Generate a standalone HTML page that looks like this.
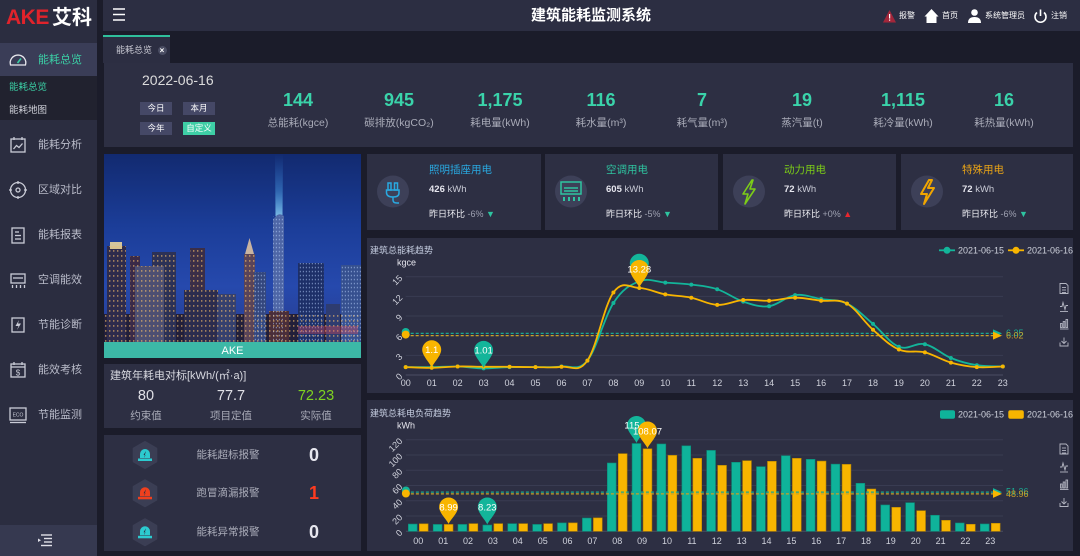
<!DOCTYPE html>
<html><head><meta charset="utf-8">
<style>
*{margin:0;padding:0;box-sizing:border-box}
body{width:1080px;height:556px;overflow:hidden;background:#1b1c2a;font-family:"Liberation Sans","Noto Sans CJK SC",sans-serif;position:relative;color:#ddd}
.a{position:absolute;white-space:nowrap}
.p{position:absolute;background:#2d2f43}
.sb{position:absolute;left:38px;font-size:11px;line-height:14px;color:#b9bbc9}
.kv{position:absolute;width:100px;text-align:center;font-size:18px;font-weight:bold;color:#3ad3aa;line-height:18px;top:91px}
.kl{position:absolute;width:100px;text-align:center;font-size:10.5px;color:#a9abb8;line-height:13px;top:117px}
.btn{position:absolute;width:32px;height:13px;background:#454866;color:#fff;font-size:8.5px;line-height:13px;text-align:center}
.ct{position:absolute;font-size:10.5px;line-height:13px}
.cv{position:absolute;font-size:9.5px;line-height:12px;color:#c9cbd6}
.cv b{color:#e6e6ee}
.cr{position:absolute;font-size:9px;line-height:12px;color:#9fa2b2}
.cr span{color:#f0f0f5}
.hd{position:absolute;font-size:8px;line-height:10px;color:#fff;top:11px}
</style></head>
<body>
<!-- sidebar -->
<div class="a" style="left:0;top:0;width:97px;height:556px;background:#2b2d40"></div>
<div class="a" style="left:0;top:43px;width:97px;height:33px;background:#3a3d57"></div>
<div class="a" style="left:0;top:76px;width:97px;height:44px;background:#21222f"></div>
<div class="a" style="left:0;top:525px;width:97px;height:31px;background:#363950"></div>
<div class="a" style="left:6px;top:6px;font-size:21px;line-height:24px;font-weight:bold;color:#e0232b;letter-spacing:-0.5px">AKE</div>
<div class="a" style="left:52px;top:6px;font-size:20px;line-height:24px;font-weight:bold;color:#fff">艾科</div>
<div class="sb" style="top:53px;color:#3bd0a6">能耗总览</div>
<div class="a" style="left:9px;top:82px;font-size:9.5px;line-height:12px;color:#3bd0a6">能耗总览</div>
<div class="a" style="left:9px;top:105px;font-size:9.5px;line-height:12px;color:#cfd0d8">能耗地图</div>
<div class="sb" style="top:138px">能耗分析</div>
<div class="sb" style="top:183px">区域对比</div>
<div class="sb" style="top:228px">能耗报表</div>
<div class="sb" style="top:273px">空调能效</div>
<div class="sb" style="top:318px">节能诊断</div>
<div class="sb" style="top:363px">能效考核</div>
<div class="sb" style="top:408px">节能监测</div>
<svg class="a" style="left:0;top:0" width="97" height="556" viewBox="0 0 97 556" fill="none" stroke="#c9cbd6" stroke-width="1.3">
<path d="M10.5,65 A7.8,7.8 0 1 1 25.5,65 Z" stroke="#e8e8ee"/><line x1="17.5" y1="63" x2="21" y2="58.5" stroke="#3bd0a6" stroke-width="1.6"/>
<rect x="11" y="139" width="14" height="13"/><line x1="14" y1="137" x2="14" y2="140"/><line x1="22" y1="137" x2="22" y2="140"/><polyline points="13.5,149 16.5,145.5 19,147.5 22.5,143.5"/>
<circle cx="18" cy="190" r="7.5"/><circle cx="18" cy="190" r="2"/><line x1="18" y1="181" x2="18" y2="184"/><line x1="18" y1="196" x2="18" y2="199"/><line x1="9" y1="190" x2="12" y2="190"/><line x1="24" y1="190" x2="27" y2="190"/>
<rect x="12" y="228" width="12" height="15"/><line x1="15" y1="232" x2="19" y2="232"/><line x1="15" y1="235.5" x2="21" y2="235.5"/><line x1="15" y1="239" x2="21" y2="239"/>
<rect x="11" y="274" width="14" height="9"/><line x1="13" y1="278" x2="23" y2="278"/><line x1="12.5" y1="285" x2="12.5" y2="288"/><line x1="16.5" y1="285" x2="16.5" y2="288"/><line x1="20.5" y1="285" x2="20.5" y2="288"/><line x1="24.5" y1="285" x2="24.5" y2="288"/>
<rect x="12" y="318" width="12" height="14"/><path d="M19,320 L15.5,326 L18.5,326 L17,330 L21,323.5 L18,323.5 Z" fill="#c9cbd6" stroke="none"/>
<rect x="11" y="364" width="14" height="13"/><line x1="11" y1="367" x2="25" y2="367"/><line x1="14" y1="362" x2="14" y2="365"/><line x1="22" y1="362" x2="22" y2="365"/><text x="18" y="375.5" font-size="8" fill="#c9cbd6" stroke="none" text-anchor="middle" font-family="Liberation Sans">$</text>
<rect x="10" y="408" width="16" height="12"/><line x1="10" y1="422.5" x2="26" y2="422.5"/><text x="18" y="416.5" font-size="5" fill="#c9cbd6" stroke="none" text-anchor="middle" font-family="Liberation Sans">ECO</text>
<g stroke="#e0e0e8" stroke-width="1.4"><line x1="41" y1="535" x2="52" y2="535"/><line x1="44" y1="538.5" x2="52" y2="538.5"/><line x1="44" y1="542" x2="52" y2="542"/><line x1="41" y1="545.5" x2="52" y2="545.5"/></g>
<path d="M38,538.5 L41,540.3 L38,542 Z" fill="#e0e0e8" stroke="none"/>
</svg>

<!-- header -->
<div class="a" style="left:103px;top:0;width:977px;height:31px;background:#2c2e42"></div>
<div class="a" style="left:491px;top:6px;width:200px;text-align:center;font-size:15px;line-height:20px;font-weight:bold;color:#fff">建筑能耗监测系统</div>
<svg class="a" style="left:0;top:0" width="1080" height="31" viewBox="0 0 1080 31">
<g stroke="#fff" stroke-width="1.5"><line x1="113" y1="9" x2="125" y2="9"/><line x1="113" y1="14.5" x2="125" y2="14.5"/><line x1="113" y1="20" x2="125" y2="20"/></g>
<path d="M883,22.5 L889.5,10 L896,22.5 Z" fill="#a3263a"/><rect x="889" y="14" width="1.2" height="4.5" fill="#fff"/><rect x="889" y="19.5" width="1.2" height="1.2" fill="#fff"/>
<path d="M924.5,16.5 L931.5,9 L938.5,16.5 L936.5,16.5 L936.5,23 L926.5,23 L926.5,16.5 Z" fill="#fff"/>
<circle cx="974.5" cy="12.5" r="3.3" fill="#fff"/><path d="M968,23 Q968,17 974.5,17 Q981,17 981,23 Z" fill="#fff"/>
<path d="M1037,12.5 A5.5,5.5 0 1 0 1044,12.5" fill="none" stroke="#fff" stroke-width="1.6"/><line x1="1040.5" y1="9.5" x2="1040.5" y2="16" stroke="#fff" stroke-width="1.6"/>
</svg>
<div class="hd" style="left:899px">报警</div>
<div class="hd" style="left:942px">首页</div>
<div class="hd" style="left:985px">系统管理员</div>
<div class="hd" style="left:1051px">注销</div>

<!-- tab -->
<div class="a" style="left:103px;top:35px;width:67px;height:28px;background:#2c2e42;border-top:2px solid #2fbf9b"></div>
<div class="a" style="left:116px;top:44px;font-size:9px;line-height:12px;color:#c9c9d3">能耗总览</div>
<div class="a" style="left:157.5px;top:45.5px;width:9px;height:9px;border-radius:50%;background:#4a4d63;color:#fff;font-size:8px;line-height:9px;text-align:center;font-weight:bold">×</div>

<!-- KPI panel -->
<div class="p" style="left:104px;top:63px;width:969px;height:84px"></div>
<div class="a" style="left:142px;top:71px;font-size:14px;line-height:18px;color:#dcdcdc">2022-06-16</div>
<div class="btn" style="left:140px;top:102px">今日</div>
<div class="btn" style="left:183px;top:102px">本月</div>
<div class="btn" style="left:140px;top:122px">今年</div>
<div class="btn" style="left:183px;top:122px;background:#3ecfa6">自定义</div>
<div class="kv" style="left:248px">144</div><div class="kl" style="left:248px">总能耗(kgce)</div>
<div class="kv" style="left:349px">945</div><div class="kl" style="left:349px">碳排放(kgCO₂)</div>
<div class="kv" style="left:450px">1,175</div><div class="kl" style="left:450px">耗电量(kWh)</div>
<div class="kv" style="left:551px">116</div><div class="kl" style="left:551px">耗水量(m³)</div>
<div class="kv" style="left:652px">7</div><div class="kl" style="left:652px">耗气量(m³)</div>
<div class="kv" style="left:752px">19</div><div class="kl" style="left:752px">蒸汽量(t)</div>
<div class="kv" style="left:853px">1,115</div><div class="kl" style="left:853px">耗冷量(kWh)</div>
<div class="kv" style="left:954px">16</div><div class="kl" style="left:954px">耗热量(kWh)</div>

<!-- image panel -->
<svg class="a" style="left:104px;top:154px" width="257" height="204" viewBox="0 0 257 204">
<defs>
<linearGradient id="sky" x1="0" y1="0" x2="0" y2="1">
<stop offset="0" stop-color="#122a70"/><stop offset="0.35" stop-color="#1b3d98"/><stop offset="0.65" stop-color="#2649ad"/><stop offset="1" stop-color="#2a3a86"/>
</linearGradient>
<linearGradient id="beam" x1="0" y1="0" x2="0" y2="1"><stop offset="0" stop-color="#3f9fff" stop-opacity="0"/><stop offset="0.6" stop-color="#5cc0ff" stop-opacity="0.35"/><stop offset="1" stop-color="#9ae4ff" stop-opacity="0.75"/></linearGradient>
<pattern id="win" width="4" height="5" patternUnits="userSpaceOnUse"><rect x="1" y="1" width="1.4" height="1.8" fill="#ffc56a" opacity="0.55"/></pattern>
<pattern id="win2" width="3" height="4" patternUnits="userSpaceOnUse"><rect x="0.8" y="0.8" width="1.2" height="1.5" fill="#bcd4ff" opacity="0.5"/></pattern>
<clipPath id="bc">
<rect x="3" y="92" width="19" height="96"/><rect x="26" y="102" width="10" height="86"/><rect x="48" y="98" width="24" height="90"/><rect x="31" y="112" width="29" height="76"/><rect x="86" y="94" width="15" height="94"/><rect x="80" y="136" width="34" height="52"/><rect x="113" y="140" width="19" height="48"/><rect x="140" y="100" width="11" height="88"/><rect x="165" y="157" width="20" height="31"/><rect x="0" y="160" width="257" height="28"/>
</clipPath>
<clipPath id="bc2">
<rect x="150" y="118" width="12" height="70"/><rect x="169" y="62" width="11" height="126"/><rect x="194" y="109" width="26" height="79"/><rect x="237" y="111" width="20" height="77"/>
</clipPath>
</defs>
<rect width="257" height="204" fill="url(#sky)"/>
<polygon points="171,0 179,0 178.5,62 171.5,62" fill="url(#beam)"/>
<rect x="0" y="160" width="257" height="28" fill="#221f3a"/>
<rect x="3" y="92" width="19" height="96" fill="#2e2b4c"/>
<rect x="6" y="88" width="12" height="7" fill="#f3dd9c" opacity="0.85"/>
<rect x="26" y="102" width="10" height="86" fill="#3a2a48"/>
<rect x="48" y="98" width="24" height="90" fill="#2c3156"/>
<rect x="31" y="112" width="29" height="76" fill="#4d4f72"/>
<rect x="86" y="94" width="15" height="94" fill="#3a2e48"/>
<rect x="80" y="136" width="34" height="52" fill="#2b2c4e"/>
<rect x="113" y="140" width="19" height="48" fill="#35406e"/>
<polygon points="145.5,84 141,100 150,100" fill="#c9b3a0"/>
<rect x="140" y="100" width="11" height="88" fill="#5a4458"/>
<rect x="150" y="118" width="12" height="70" fill="#34477e"/>
<path d="M169,188 L169,66 Q174,57 180,62 L180,188 Z" fill="#4e66a6"/>
<rect x="165" y="157" width="20" height="31" fill="#4a2e3a"/>
<rect x="194" y="109" width="26" height="79" fill="#1d2f68"/>
<rect x="222" y="150" width="14" height="38" fill="#2e3c70"/>
<rect x="237" y="111" width="20" height="77" fill="#36508f"/>
<rect width="257" height="188" fill="url(#win)" clip-path="url(#bc)"/>
<rect width="257" height="188" fill="url(#win2)" clip-path="url(#bc2)"/>
<rect x="194" y="172" width="60" height="8" fill="#e0485a" opacity="0.35"/>
<rect y="188" width="257" height="16" fill="#3fcfac" opacity="0.85"/>
<text x="128.5" y="200" font-size="11" fill="#fff" text-anchor="middle" font-family="Liberation Sans">AKE</text>
</svg>

<!-- benchmark -->
<div class="p" style="left:104px;top:364px;width:257px;height:64px"></div>
<div class="a" style="left:110px;top:369px;font-size:11px;line-height:14px;color:#d8d9e0">建筑年耗电对标[kWh/(㎡·a)]</div>
<div class="a" style="left:106px;top:387px;width:80px;text-align:center;font-size:14.5px;line-height:18px;color:#e0e0e6">80</div>
<div class="a" style="left:191px;top:387px;width:80px;text-align:center;font-size:14.5px;line-height:18px;color:#e0e0e6">77.7</div>
<div class="a" style="left:276px;top:387px;width:80px;text-align:center;font-size:14.5px;line-height:18px;color:#7ed321">72.23</div>
<div class="a" style="left:106px;top:410px;width:80px;text-align:center;font-size:10.5px;line-height:13px;color:#a9abb8">约束值</div>
<div class="a" style="left:191px;top:410px;width:80px;text-align:center;font-size:10.5px;line-height:13px;color:#a9abb8">项目定值</div>
<div class="a" style="left:276px;top:410px;width:80px;text-align:center;font-size:10.5px;line-height:13px;color:#a9abb8">实际值</div>

<!-- alarms -->
<div class="p" style="left:104px;top:435px;width:257px;height:116px"></div>
<svg class="a" style="left:104px;top:435px" width="257" height="116" viewBox="104 435 257 116">
<g id="hx"><polygon points="145,442 156.3,448.5 156.3,461.5 145,468 133.7,461.5 133.7,448.5" fill="#3b3e54" stroke="#3b3e54" stroke-width="2" stroke-linejoin="round"/></g>
<use href="#hx" y="38.3"/><use href="#hx" y="77.3"/>
<g fill="#2ccbd0"><path d="M140,458 L140,454 A5,5 0 0 1 150,454 L150,458 Z"/><rect x="138" y="458.5" width="14" height="2.5"/><path d="M146,451 L143.5,455 L145.5,455 L144,458 Z" fill="#2b2d40"/></g>
<g fill="#f0401e" transform="translate(0,38.3)"><path d="M140,458 L140,454 A5,5 0 0 1 150,454 L150,458 Z"/><rect x="138" y="458.5" width="14" height="2.5"/><path d="M146,451 L143.5,455 L145.5,455 L144,458 Z" fill="#2b2d40"/></g>
<g fill="#2ccbd0" transform="translate(0,77.3)"><path d="M140,458 L140,454 A5,5 0 0 1 150,454 L150,458 Z"/><rect x="138" y="458.5" width="14" height="2.5"/><path d="M146,451 L143.5,455 L145.5,455 L144,458 Z" fill="#2b2d40"/></g>
</svg>
<div class="a" style="left:178px;top:448px;width:100px;text-align:center;font-size:10.5px;line-height:14px;color:#a9abb8">能耗超标报警</div>
<div class="a" style="left:178px;top:486px;width:100px;text-align:center;font-size:10.5px;line-height:14px;color:#a9abb8">跑冒滴漏报警</div>
<div class="a" style="left:178px;top:525px;width:100px;text-align:center;font-size:10.5px;line-height:14px;color:#a9abb8">能耗异常报警</div>
<div class="a" style="left:294px;top:444px;width:40px;text-align:center;font-size:18px;line-height:22px;font-weight:bold;color:#e6e6ee">0</div>
<div class="a" style="left:294px;top:482px;width:40px;text-align:center;font-size:18px;line-height:22px;font-weight:bold;color:#ff3b1f">1</div>
<div class="a" style="left:294px;top:521px;width:40px;text-align:center;font-size:18px;line-height:22px;font-weight:bold;color:#e6e6ee">0</div>

<!-- cards -->
<div class="p" style="left:367px;top:154px;width:174px;height:76px"></div>
<div class="p" style="left:545px;top:154px;width:173px;height:76px"></div>
<div class="p" style="left:723px;top:154px;width:173px;height:76px"></div>
<div class="p" style="left:901px;top:154px;width:172px;height:76px"></div>
<svg class="a" style="left:367px;top:154px" width="706" height="76" viewBox="367 154 706 76">
<circle cx="393" cy="191.5" r="16" fill="#3d4058"/>
<circle cx="571" cy="191.5" r="16" fill="#3d4058"/>
<circle cx="749" cy="191.5" r="16" fill="#3d4058"/>
<circle cx="927" cy="191.5" r="16" fill="#3d4058"/>
<g fill="none" stroke="#29a9e1" stroke-width="1.5"><rect x="388" y="183" width="3" height="7"/><rect x="394.5" y="183" width="3" height="7"/><path d="M386.5,190 L399,190 L399,193 Q399,197 393,197 Q387,197 386.5,193 Z"/><path d="M393,197 L393,200 Q393,203 397,203 L399,203"/></g>
<g fill="none" stroke="#2ec4a0" stroke-width="1.5"><rect x="561" y="182" width="20" height="12"/><line x1="564" y1="188" x2="578" y2="188"/><line x1="564" y1="191" x2="578" y2="191"/></g>
<g fill="#2ec4a0"><rect x="563" y="197" width="2" height="4"/><rect x="568" y="197" width="2" height="4"/><rect x="573" y="197" width="2" height="4"/><rect x="578" y="197" width="2" height="4"/></g>
<path d="M752,180 L743,194 L748,194 L745,204 L755,189 L750,189 L753,180 Z" fill="none" stroke="#7ccd17" stroke-width="1.6" stroke-linejoin="round"/>
<path d="M929,180 L921,194 L927,194 L924,204 L934,188 L928,188 L932,180 Z" fill="none" stroke="#f0a500" stroke-width="2" stroke-linejoin="round"/>
</svg>
<div class="ct" style="left:429px;top:164px;color:#29a9e1">照明插座用电</div>
<div class="ct" style="left:606px;top:164px;color:#2ec4a0">空调用电</div>
<div class="ct" style="left:784px;top:164px;color:#7ccd17">动力用电</div>
<div class="ct" style="left:962px;top:164px;color:#e8a317">特殊用电</div>
<div class="cv" style="left:429px;top:184px"><b>426</b> kWh</div>
<div class="cv" style="left:606px;top:184px"><b>605</b> kWh</div>
<div class="cv" style="left:784px;top:184px"><b>72</b> kWh</div>
<div class="cv" style="left:962px;top:184px"><b>72</b> kWh</div>
<div class="cr" style="left:429px;top:208px"><span>昨日环比</span> -6% <i style="font-style:normal;color:#2ec4a0">▼</i></div>
<div class="cr" style="left:606px;top:208px"><span>昨日环比</span> -5% <i style="font-style:normal;color:#2ec4a0">▼</i></div>
<div class="cr" style="left:784px;top:208px"><span>昨日环比</span> +0% <i style="font-style:normal;color:#e8262e">▲</i></div>
<div class="cr" style="left:962px;top:208px"><span>昨日环比</span> -6% <i style="font-style:normal;color:#2ec4a0">▼</i></div>

<!-- chart panels -->
<div class="p" style="left:367px;top:238px;width:706px;height:155px"></div>
<div class="p" style="left:367px;top:400px;width:706px;height:151px"></div>

<svg id="ch" class="a" style="left:0;top:0" width="1080" height="556" viewBox="0 0 1080 556" font-family="Liberation Sans, Noto Sans CJK SC, sans-serif">
<defs>
<g id="tb" fill="none" stroke="#b4b6c2" stroke-width="0.9">
<path d="M-4,-5 L2,-5 L4,-3 L4,5 L-4,5 Z"/><line x1="-2" y1="-1" x2="2" y2="-1"/><line x1="-2" y1="1.5" x2="2" y2="1.5"/><line x1="-2" y1="4" x2="2" y2="4"/>
<polyline points="-4,18 -2,18 -1,14 1,21 2,17 4,17"/><line x1="-4" y1="23" x2="4" y2="23"/>
<rect x="-3.5" y="35" width="1.6" height="4"/><rect x="-0.8" y="33" width="1.6" height="6"/><rect x="2" y="31" width="1.6" height="8"/><line x1="-4" y1="40.5" x2="4.5" y2="40.5"/>
<line x1="0" y1="49" x2="0" y2="55"/><polyline points="-2.5,52.5 0,55 2.5,52.5"/><polyline points="-4,54 -4,57.5 4,57.5 4,54"/>
</g>
</defs>
<!-- LINE CHART -->
<text x="370" y="253.5" font-size="9" fill="#c5cde0">建筑总能耗趋势</text>
<text x="397" y="265.5" font-size="9" fill="#e6e6ee">kgce</text>
<g stroke="#393c52" stroke-width="1">
<line x1="405.7" y1="276.75" x2="1003" y2="276.75"/><line x1="405.7" y1="296.4" x2="1003" y2="296.4"/><line x1="405.7" y1="316.05" x2="1003" y2="316.05"/><line x1="405.7" y1="335.7" x2="1003" y2="335.7"/><line x1="405.7" y1="355.35" x2="1003" y2="355.35"/>
<line x1="405.7" y1="375" x2="1003" y2="375" stroke="#4a4d63"/>
</g>
<g font-size="9" fill="#d0d2dc" text-anchor="end">
<text x="403" y="377" transform="rotate(-45 403 377)">0</text>
<text x="403" y="357.3" transform="rotate(-45 403 357.3)">3</text>
<text x="403" y="337.7" transform="rotate(-45 403 337.7)">6</text>
<text x="403" y="318" transform="rotate(-45 403 318)">9</text>
<text x="403" y="298.4" transform="rotate(-45 403 298.4)">12</text>
<text x="403" y="278.7" transform="rotate(-45 403 278.7)">15</text>
</g>
<g font-size="9" fill="#d0d2dc" text-anchor="middle">
<text x="405.7" y="386">00</text><text x="431.7" y="386">01</text><text x="457.6" y="386">02</text><text x="483.6" y="386">03</text><text x="509.5" y="386">04</text><text x="535.5" y="386">05</text><text x="561.5" y="386">06</text><text x="587.4" y="386">07</text><text x="613.4" y="386">08</text><text x="639.3" y="386">09</text><text x="665.3" y="386">10</text><text x="691.3" y="386">11</text><text x="717.2" y="386">12</text><text x="743.2" y="386">13</text><text x="769.1" y="386">14</text><text x="795.1" y="386">15</text><text x="821.1" y="386">16</text><text x="847" y="386">17</text><text x="873" y="386">18</text><text x="898.9" y="386">19</text><text x="924.9" y="386">20</text><text x="950.9" y="386">21</text><text x="976.8" y="386">22</text><text x="1002.8" y="386">23</text>
</g>
<!-- averages -->
<line x1="405.7" y1="333.4" x2="995" y2="333.4" stroke="#1aa891" stroke-width="1.3" stroke-dasharray="3 2"/>
<line x1="405.7" y1="335.6" x2="995" y2="335.6" stroke="#c9a227" stroke-width="1.3" stroke-dasharray="3 2"/>
<circle cx="405.7" cy="332" r="4" fill="#13b59a"/><circle cx="405.7" cy="334.6" r="4" fill="#f8b500"/>
<path d="M993,329.4 L1002,333.4 L993,337.4 Z" fill="#13b59a"/><path d="M993,331.6 L1002,335.6 L993,339.6 Z" fill="#f8b500"/>
<text x="1006" y="336" font-size="9" fill="#1aa891">6.35</text>
<text x="1006" y="338.5" font-size="9" fill="#c9a227">6.02</text>
<!-- lines -->
<path class="sm" data-c="#13b59a" d="M405.7,367.1 L431.7,367.1 L457.6,366.5 L483.6,368.4 L509.5,367.1 L535.5,367.1 L561.5,366.5 L587.4,360.6 L613.4,303.0 L639.3,281.3 L665.3,282.6 L691.3,284.6 L717.2,289.2 L743.2,301.6 L769.1,306.2 L795.1,295.1 L821.1,299.0 L847.0,303.6 L873.0,323.9 L898.9,346.8 L924.9,344.2 L950.9,358.0 L976.8,365.2 L1002.8,366.5" fill="none" stroke="#13b59a" stroke-width="1.8"/>
<path class="sm" data-c="#f8b500" d="M405.7,367.1 L431.7,367.8 L457.6,366.5 L483.6,366.8 L509.5,366.8 L535.5,367.1 L561.5,366.8 L587.4,360.6 L613.4,292.5 L639.3,288.0 L665.3,294.4 L691.3,297.7 L717.2,304.9 L743.2,300.0 L769.1,300.7 L795.1,297.7 L821.1,300.7 L847.0,303.6 L873.0,329.8 L898.9,349.5 L924.9,352.4 L950.9,362.6 L976.8,367.1 L1002.8,366.5" fill="none" stroke="#f8b500" stroke-width="1.8"/>
<g id="dots"></g>
<!-- pins line -->
<path d="M431.7,367.5 C430.2,363.5 422.2,355.8 422.2,349.8 A9.5,9.5 0 1 1 441.2,349.8 C441.2,355.8 433.2,363.5 431.7,367.5 Z" fill="#f8b500"/>
<text x="431.7" y="353" font-size="9.5" fill="#fff" text-anchor="middle">1.1</text>
<path d="M483.6,368 C482.1,364 474.1,356.4 474.1,350.4 A9.5,9.5 0 1 1 493.1,350.4 C493.1,356.4 485.1,364 483.6,368 Z" fill="#13b59a"/>
<text x="483.6" y="353.6" font-size="9.5" fill="#fff" text-anchor="middle">1.01</text>
<path d="M639.3,281 C637.8,277 629.8,269.3 629.8,263.3 A9.5,9.5 0 1 1 648.8,263.3 C648.8,269.3 640.8,277 639.3,281 Z" fill="#13b59a"/>
<path d="M639.3,287.5 C637.8,283.5 629.8,275.5 629.8,269.5 A9.5,9.5 0 1 1 648.8,269.5 C648.8,275.5 640.8,283.5 639.3,287.5 Z" fill="#f8b500"/>
<text x="639.3" y="272.5" font-size="9.5" fill="#fff" text-anchor="middle">13.28</text>
<!-- legend line -->
<line x1="939" y1="250.3" x2="955" y2="250.3" stroke="#13b59a" stroke-width="1.8"/><circle cx="947" cy="250.3" r="3.5" fill="#13b59a"/>
<text x="958" y="253.5" font-size="9" fill="#cfd2dc">2021-06-15</text>
<line x1="1008" y1="250.3" x2="1024" y2="250.3" stroke="#f8b500" stroke-width="1.8"/><circle cx="1016" cy="250.3" r="3.5" fill="#f8b500"/>
<text x="1027" y="253.5" font-size="9" fill="#cfd2dc">2021-06-16</text>
<use href="#tb" x="1064" y="288.5"/>

<!-- BAR CHART -->
<text x="370" y="416.5" font-size="9" fill="#c5cde0">建筑总耗电负荷趋势</text>
<text x="397" y="428.5" font-size="9" fill="#e6e6ee">kWh</text>
<g stroke="#393c52" stroke-width="1">
<line x1="405.9" y1="439.7" x2="1003" y2="439.7"/><line x1="405.9" y1="455" x2="1003" y2="455"/><line x1="405.9" y1="470.2" x2="1003" y2="470.2"/><line x1="405.9" y1="485.5" x2="1003" y2="485.5"/><line x1="405.9" y1="500.8" x2="1003" y2="500.8"/><line x1="405.9" y1="516" x2="1003" y2="516"/>
<line x1="405.9" y1="531.3" x2="1003" y2="531.3" stroke="#4a4d63"/>
</g>
<g font-size="9" fill="#d0d2dc" text-anchor="end">
<text x="403" y="533.3" transform="rotate(-45 403 533.3)">0</text>
<text x="403" y="518" transform="rotate(-45 403 518)">20</text>
<text x="403" y="502.8" transform="rotate(-45 403 502.8)">40</text>
<text x="403" y="487.5" transform="rotate(-45 403 487.5)">60</text>
<text x="403" y="472.2" transform="rotate(-45 403 472.2)">80</text>
<text x="403" y="457" transform="rotate(-45 403 457)">100</text>
<text x="403" y="441.7" transform="rotate(-45 403 441.7)">120</text>
</g>
<g font-size="9" fill="#d0d2dc" text-anchor="middle">
<text x="418.3" y="544">00</text><text x="443.2" y="544">01</text><text x="468" y="544">02</text><text x="492.9" y="544">03</text><text x="517.8" y="544">04</text><text x="542.7" y="544">05</text><text x="567.5" y="544">06</text><text x="592.4" y="544">07</text><text x="617.3" y="544">08</text><text x="642.1" y="544">09</text><text x="667" y="544">10</text><text x="691.9" y="544">11</text><text x="716.7" y="544">12</text><text x="741.6" y="544">13</text><text x="766.5" y="544">14</text><text x="791.4" y="544">15</text><text x="816.2" y="544">16</text><text x="841.1" y="544">17</text><text x="866" y="544">18</text><text x="890.8" y="544">19</text><text x="915.7" y="544">20</text><text x="940.6" y="544">21</text><text x="965.4" y="544">22</text><text x="990.3" y="544">23</text>
</g>
<g fill="#0fb39a" stroke="#0b8a77" stroke-width="0.6">
<rect x="408.3" y="524.05" width="8.8" height="7.25"/><rect x="433.2" y="524.43" width="8.8" height="6.87"/><rect x="458" y="524.43" width="8.8" height="6.87"/><rect x="482.9" y="525.02" width="8.8" height="6.28"/><rect x="507.8" y="523.67" width="8.8" height="7.63"/><rect x="532.7" y="524.43" width="8.8" height="6.87"/><rect x="557.5" y="522.9" width="8.8" height="8.4"/><rect x="582.4" y="518.02" width="8.8" height="13.28"/><rect x="607.3" y="462.99" width="8.8" height="68.31"/><rect x="632.1" y="443.52" width="8.8" height="87.78"/><rect x="657" y="443.98" width="8.8" height="87.32"/><rect x="681.9" y="445.81" width="8.8" height="85.49"/><rect x="706.7" y="450.39" width="8.8" height="80.91"/><rect x="731.6" y="462.3" width="8.8" height="69"/><rect x="756.5" y="466.65" width="8.8" height="64.65"/><rect x="781.4" y="455.73" width="8.8" height="75.57"/><rect x="806.2" y="459.32" width="8.8" height="71.98"/><rect x="831.1" y="464.13" width="8.8" height="67.17"/><rect x="856" y="483.29" width="8.8" height="48.01"/><rect x="880.8" y="504.97" width="8.8" height="26.33"/><rect x="905.7" y="502.68" width="8.8" height="28.62"/><rect x="930.6" y="515.27" width="8.8" height="16.03"/><rect x="955.4" y="522.98" width="8.8" height="8.32"/><rect x="980.3" y="523.97" width="8.8" height="7.33"/>
</g>
<g fill="#f8b500" stroke="#b88600" stroke-width="0.6">
<rect x="419.3" y="523.82" width="8.8" height="7.48"/><rect x="444.2" y="524.44" width="8.8" height="6.86"/><rect x="469" y="523.67" width="8.8" height="7.63"/><rect x="493.9" y="523.67" width="8.8" height="7.63"/><rect x="518.8" y="523.67" width="8.8" height="7.63"/><rect x="543.7" y="523.67" width="8.8" height="7.63"/><rect x="568.5" y="522.9" width="8.8" height="8.4"/><rect x="593.4" y="517.87" width="8.8" height="13.43"/><rect x="618.3" y="453.67" width="8.8" height="77.63"/><rect x="643.1" y="448.81" width="8.8" height="82.49"/><rect x="668" y="455.35" width="8.8" height="75.95"/><rect x="692.9" y="458.33" width="8.8" height="72.97"/><rect x="717.7" y="465.35" width="8.8" height="65.95"/><rect x="742.6" y="460.7" width="8.8" height="70.6"/><rect x="767.5" y="461.31" width="8.8" height="69.99"/><rect x="792.4" y="458.33" width="8.8" height="72.97"/><rect x="817.2" y="461.08" width="8.8" height="70.22"/><rect x="842.1" y="464.36" width="8.8" height="66.94"/><rect x="867" y="489.01" width="8.8" height="42.29"/><rect x="891.8" y="507.33" width="8.8" height="23.97"/><rect x="916.7" y="510.69" width="8.8" height="20.61"/><rect x="941.6" y="520.31" width="8.8" height="10.99"/><rect x="966.4" y="524.28" width="8.8" height="7.02"/><rect x="991.3" y="523.29" width="8.8" height="8.01"/>
</g>
<line x1="405.9" y1="492.1" x2="995" y2="492.1" stroke="#1aa891" stroke-width="1.3" stroke-dasharray="3 2"/>
<line x1="405.9" y1="493.9" x2="995" y2="493.9" stroke="#c9a227" stroke-width="1.3" stroke-dasharray="3 2"/>
<circle cx="405.9" cy="490.5" r="4" fill="#13b59a"/><circle cx="405.9" cy="493.5" r="4" fill="#f8b500"/>
<path d="M993,488.1 L1002,492.1 L993,496.1 Z" fill="#13b59a"/><path d="M993,489.9 L1002,493.9 L993,497.9 Z" fill="#f8b500"/>
<text x="1006" y="494.5" font-size="9" fill="#1aa891">51.36</text>
<text x="1006" y="496.8" font-size="9" fill="#c9a227">48.96</text>
<!-- pins bar -->
<path d="M448.6,524 C447.1,520 439.1,513 439.1,507 A9.5,9.5 0 1 1 458.1,507 C458.1,513 450.1,520 448.6,524 Z" fill="#f8b500"/>
<text x="448.6" y="510.3" font-size="9.5" fill="#fff" text-anchor="middle">8.99</text>
<path d="M487.3,524.5 C485.8,520.5 477.8,513 477.8,507 A9.5,9.5 0 1 1 496.8,507 C496.8,513 488.8,520.5 487.3,524.5 Z" fill="#13b59a"/>
<text x="487.3" y="510.3" font-size="9.5" fill="#fff" text-anchor="middle">8.23</text>
<path d="M636.5,443 C635,439 627,431.5 627,425.5 A9.5,9.5 0 1 1 646,425.5 C646,431.5 638,439 636.5,443 Z" fill="#13b59a"/>
<text x="632" y="428.5" font-size="9.5" fill="#fff" text-anchor="middle">115</text>
<path d="M647.5,448.3 C646,444.3 638,437 638,431 A9.5,9.5 0 1 1 657,431 C657,437 649,444.3 647.5,448.3 Z" fill="#f8b500"/>
<text x="647.5" y="434.3" font-size="9.5" fill="#fff" text-anchor="middle">108.07</text>
<!-- legend bar -->
<rect x="940" y="410.3" width="15" height="8.4" rx="2" fill="#0fb39a"/>
<text x="958" y="417.5" font-size="9" fill="#cfd2dc">2021-06-15</text>
<rect x="1008.3" y="410.3" width="15.5" height="8.4" rx="2" fill="#f8b500"/>
<text x="1027" y="417.5" font-size="9" fill="#cfd2dc">2021-06-16</text>
<use href="#tb" x="1064" y="449"/>
</svg>
<script>
(function(){
var ns="http://www.w3.org/2000/svg",dots=document.getElementById('dots');
document.querySelectorAll('path.sm').forEach(function(p){
 var n=p.getAttribute('d').match(/-?[\d.]+/g).map(Number),pts=[];
 for(var i=0;i<n.length;i+=2)pts.push([n[i],n[i+1]]);
 var d='M'+pts[0][0]+','+pts[0][1],t=0.18;
 for(var i=0;i<pts.length-1;i++){
  var p0=pts[i-1]||pts[i],p1=pts[i],p2=pts[i+1],p3=pts[i+2]||p2;
  var c1=[p1[0]+(p2[0]-p0[0])*t,p1[1]+(p2[1]-p0[1])*t];
  var c2=[p2[0]-(p3[0]-p1[0])*t,p2[1]-(p3[1]-p1[1])*t];
  d+=' C'+c1[0].toFixed(1)+','+c1[1].toFixed(1)+' '+c2[0].toFixed(1)+','+c2[1].toFixed(1)+' '+p2[0]+','+p2[1];
 }
 p.setAttribute('d',d);
 var c=p.getAttribute('data-c');
 pts.forEach(function(q){var e=document.createElementNS(ns,'circle');e.setAttribute('cx',q[0]);e.setAttribute('cy',q[1]);e.setAttribute('r','2');e.setAttribute('fill',c);dots.appendChild(e);});
});
})();
</script>
</body></html>
